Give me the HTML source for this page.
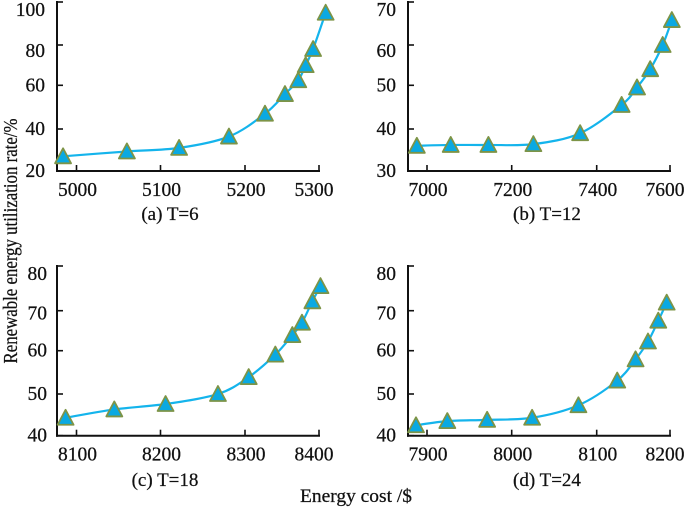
<!DOCTYPE html>
<html lang="en">
<head>
<meta charset="utf-8">
<title>Renewable energy utilization rate vs energy cost</title>
<style>
  html, body { margin: 0; padding: 0; background: #fff; }
  body { width: 685px; height: 507px; overflow: hidden; }
  svg { display: block; filter: blur(0.35px); }
  text { font-family: "Liberation Serif", serif; fill: #111; stroke: #111; stroke-width: 0.25px; }
</style>
</head>
<body>
<svg id="chart" xmlns="http://www.w3.org/2000/svg" width="685" height="507" viewBox="0 0 685 507">
  <rect x="0" y="0" width="685" height="507" fill="#ffffff"></rect>
  <text x="0" y="0" transform="translate(17,241) rotate(-90)" text-anchor="middle" font-size="19.5" textLength="245" lengthAdjust="spacingAndGlyphs">Renewable energy utilization rate/%</text>
  <text x="356" y="502" text-anchor="middle" font-size="19" textLength="112" lengthAdjust="spacingAndGlyphs">Energy cost /$</text>
</svg>
<script>
// Panel (a) T=6
const xTicksA = [5000, 5100, 5200, 5300];
const yTicksA = [20, 40, 60, 80, 100];
const costA = [4984, 5060, 5122, 5181, 5227, 5254, 5272, 5282, 5292, 5309];
const utilA = [27, 29.3, 31, 36.4, 47, 56, 62.5, 70, 78, 95];
// Panel (b) T=12
const xTicksB = [7000, 7200, 7400, 7600];
const yTicksB = [30, 40, 50, 60, 70];
const costB = [6976, 7056, 7145, 7251, 7361, 7468, 7510, 7546, 7580, 7605];
const utilB = [36, 36.2, 36.2, 36.4, 39, 45.5, 49.5, 54, 60, 65.8];
// Panel (c) T=18
const xTicksC = [8100, 8200, 8300, 8400];
const yTicksC = [40, 50, 60, 70, 80];
const costC = [8087, 8145, 8206, 8268, 8305, 8341, 8364, 8377, 8391, 8402];
const utilC = [44.3, 46.3, 47.6, 50, 53.9, 59.1, 63.9, 67, 72.1, 75.5];
// Panel (d) T=24
const xTicksD = [7900, 8000, 8100, 8200];
const yTicksD = [40, 50, 60, 70, 80];
const costD = [7887, 7924, 7971, 8024, 8078.5, 8128, 8153, 8170, 8184, 8195.5];
const utilD = [42.5, 43.5, 43.8, 44.3, 47.3, 53.1, 58, 62.3, 67.5, 71.8];

const svg = document.getElementById('chart');
const NS = 'http://www.w3.org/2000/svg';

function make(tag, attrs, parent) {
  const el = document.createElementNS(NS, tag);
  for (const k in attrs) el.setAttribute(k, attrs[k]);
  parent.appendChild(el);
  return el;
}

// Piecewise-linear axis: the printed axes have unevenly spaced ticks.
function axisScale(domain, range) {
  return function (v) {
    let i = 0;
    while (i < domain.length - 2 && v > domain[i + 1]) i++;
    const t = (v - domain[i]) / (domain[i + 1] - domain[i]);
    return range[i] + t * (range[i + 1] - range[i]);
  };
}

function smoothPath(pts) {
  let d = 'M' + pts[0][0].toFixed(2) + ' ' + pts[0][1].toFixed(2);
  for (let i = 0; i < pts.length - 1; i++) {
    const p0 = pts[Math.max(i - 1, 0)];
    const p1 = pts[i];
    const p2 = pts[i + 1];
    const p3 = pts[Math.min(i + 2, pts.length - 1)];
    const c1x = p1[0] + (p2[0] - p0[0]) / 6;
    const c1y = p1[1] + (p2[1] - p0[1]) / 6;
    const c2x = p2[0] - (p3[0] - p1[0]) / 6;
    const c2y = p2[1] - (p3[1] - p1[1]) / 6;
    d += 'C' + c1x.toFixed(2) + ' ' + c1y.toFixed(2) + ' ' + c2x.toFixed(2) + ' ' + c2y.toFixed(2) + ' ' + p2[0].toFixed(2) + ' ' + p2[1].toFixed(2);
  }
  return d;
}

function drawPanel(cfg) {
  const g = make('g', {}, svg);
  
  

  const sx = axisScale(cfg.xTicks, cfg.xStops);
  const sy = axisScale(cfg.yTicks, cfg.yStops);
  const x0 = cfg.axisX;
  const y0 = cfg.yStops[0];
  const xEnd = cfg.xStops[cfg.xStops.length - 1];
  const yEnd = cfg.yStops[cfg.yStops.length - 1];

  const yAxis = make('line', { x1: x0, x2: x0, y1: yEnd - 1, y2: y0 + 1, stroke: '#111', 'stroke-width': 2 }, g);
  
  

  const xAxis = make('line', { x1: x0 - 1, x2: xEnd + 1, y1: y0, y2: y0, stroke: '#111', 'stroke-width': 2 }, g);
  
  

  cfg.xTicks.forEach(function (v, i) {
    const px = sx(v);
    const tick = make('line', { x1: px, x2: px, y1: y0, y2: y0 - 6, stroke: '#111', 'stroke-width': 1.6 }, g);
    
    
    const isLast = i === cfg.xTicks.length - 1;
    const label = make('text', { x: px + (isLast ? -5 : 1), y: y0 + 25, 'text-anchor': 'middle', 'font-size': 19.5 }, g);
    label.textContent = v;
    
    
  });

  cfg.yTicks.forEach(function (v, i) {
    const py = sy(v);
    const n = cfg.yTicks.length;
    const nudge = i === n - 1 ? 8 : (i === n - 2 ? cfg.secondNudge : 0);
    const tick = make('line', { x1: x0, x2: x0 + 6, y1: py, y2: py, stroke: '#111', 'stroke-width': 1.6 }, g);
    
    
    const label = make('text', { x: cfg.labelRight, y: py + nudge + 6, 'text-anchor': 'end', 'font-size': 19.5 }, g);
    label.textContent = v;
    
    
  });

  const pts = cfg.cost.map(function (c, i) { return [sx(c), sy(cfg.util[i])]; });

  const curve = make('path', { d: smoothPath(pts), fill: 'none', stroke: '#14b4ec', 'stroke-width': 2.2 }, g);
  
  

  pts.forEach(function (p, i) {
    const points = [
      (p[0]).toFixed(2) + ',' + (p[1] - 8).toFixed(2),
      (p[0] + 8).toFixed(2) + ',' + (p[1] + 7).toFixed(2),
      (p[0] - 8).toFixed(2) + ',' + (p[1] + 7).toFixed(2)
    ].join(' ');
    const marker = make('polygon', { points: points, fill: '#0aa9e2', stroke: '#7d9447', 'stroke-width': 1.8, 'stroke-linejoin': 'round' }, g);
    
    
  });

  const caption = make('text', { x: cfg.captionX, y: cfg.captionY, 'text-anchor': 'middle', 'font-size': 19 }, g);
  caption.textContent = cfg.caption;
  
  
}

const xStopsLeft = [76.5, 160.5, 245, 319];
const xStopsRight = [427, 511.7, 596.7, 670];
const yStopsTop = [171, 129, 85.3, 45, 2];
const yStopsBottom = [435.7, 394, 350.7, 310.7, 266];

drawPanel({ id: 'a', caption: '(a) T=6', captionX: 170, captionY: 220, axisX: 57, labelRight: 45, secondNudge: 6,
  xTicks: xTicksA, yTicks: yTicksA, cost: costA, util: utilA, xStops: xStopsLeft, yStops: yStopsTop });
drawPanel({ id: 'b', caption: '(b) T=12', captionX: 547, captionY: 220, axisX: 408, labelRight: 396, secondNudge: 6,
  xTicks: xTicksB, yTicks: yTicksB, cost: costB, util: utilB, xStops: xStopsRight, yStops: yStopsTop });
drawPanel({ id: 'c', caption: '(c) T=18', captionX: 165, captionY: 486, axisX: 57, labelRight: 47, secondNudge: 3,
  xTicks: xTicksC, yTicks: yTicksC, cost: costC, util: utilC, xStops: xStopsLeft, yStops: yStopsBottom });
drawPanel({ id: 'd', caption: '(d) T=24', captionX: 547, captionY: 486, axisX: 408, labelRight: 396, secondNudge: 3,
  xTicks: xTicksD, yTicks: yTicksD, cost: costD, util: utilD, xStops: xStopsRight, yStops: yStopsBottom });
</script>
</body>
</html>
